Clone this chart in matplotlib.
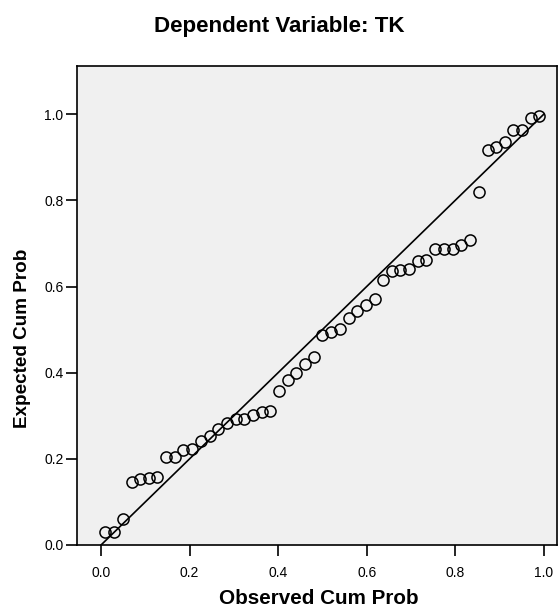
import matplotlib
matplotlib.use('Agg')
import matplotlib.pyplot as plt

plt.rcParams['font.family'] = ['Liberation Sans', 'DejaVu Sans']

# observed cumulative probability (51 residuals)
observed = [0.010, 0.029, 0.049, 0.069, 0.088, 0.108, 0.127, 0.147, 0.167, 0.186,
            0.206, 0.225, 0.245, 0.265, 0.284, 0.304, 0.324, 0.343, 0.363, 0.382,
            0.402, 0.422, 0.441, 0.461, 0.480, 0.500, 0.520, 0.539, 0.559, 0.578,
            0.598, 0.618, 0.637, 0.657, 0.676, 0.696, 0.716, 0.735, 0.755, 0.775,
            0.794, 0.814, 0.833, 0.853, 0.873, 0.892, 0.912, 0.931, 0.951, 0.971,
            0.990]
expected = [0.029, 0.030, 0.061, 0.146, 0.153, 0.156, 0.157, 0.204, 0.205, 0.221,
            0.223, 0.242, 0.252, 0.269, 0.283, 0.293, 0.293, 0.301, 0.308, 0.310,
            0.358, 0.382, 0.399, 0.420, 0.437, 0.488, 0.495, 0.502, 0.528, 0.544,
            0.557, 0.571, 0.615, 0.636, 0.639, 0.640, 0.659, 0.662, 0.687, 0.688,
            0.688, 0.697, 0.708, 0.819, 0.916, 0.923, 0.936, 0.964, 0.964, 0.991,
            0.995]
ref_line = [0.0, 1.0]
ticks = [0.0, 0.2, 0.4, 0.6, 0.8, 1.0]
tick_labels = ['0.0', '0.2', '0.4', '0.6', '0.8', '1.0']

fig = plt.figure(figsize=(5.58, 6.10), dpi=100)
ax = fig.add_axes([0.1375, 0.1066, 0.8615, 0.7852])
ax.set_facecolor('#f0f0f0')

ax.plot(ref_line, ref_line, color='black', linewidth=1.2, zorder=2)
ax.plot(observed, expected, linestyle='none', marker='o', markersize=8,
        markerfacecolor='none', markeredgecolor='black', markeredgewidth=1.1, zorder=3)

ax.set_xlim(-0.055, 1.031)
ax.set_ylim(0.0, 1.112)
ax.set_xticks(ticks)
ax.set_xticklabels(tick_labels)
ax.set_yticks(ticks)
ax.set_yticklabels(tick_labels)
ax.tick_params(direction='out', length=8, width=1.2, labelsize=10,
               top=False, right=False)
ax.tick_params(axis='x', pad=7)
ax.tick_params(axis='y', pad=1.5)
for s in ax.spines.values():
    s.set_linewidth(1.2)

title = fig.text(0.50, 0.957, 'Dependent Variable: TK', ha='center', va='center',
                 fontsize=14, fontweight='bold')
xlab = fig.text(0.572, 0.019, 'Observed Cum Prob', ha='center', va='center',
                fontsize=14, fontweight='bold')
ylab = fig.text(0.040, 0.446, 'Expected Cum Prob', ha='center', va='center',
                fontsize=14, fontweight='bold', rotation=90)

# scale each label to roughly the space it takes in the original
fig.canvas.draw()
renderer = fig.canvas.get_renderer()
for txt, target, vertical in [(title, 252, False), (xlab, 200, False), (ylab, 180, True)]:
    bb = txt.get_window_extent(renderer)
    size = bb.height if vertical else bb.width
    txt.set_fontsize(txt.get_fontsize() * target / size)

fig.savefig('out.png', dpi=100)
